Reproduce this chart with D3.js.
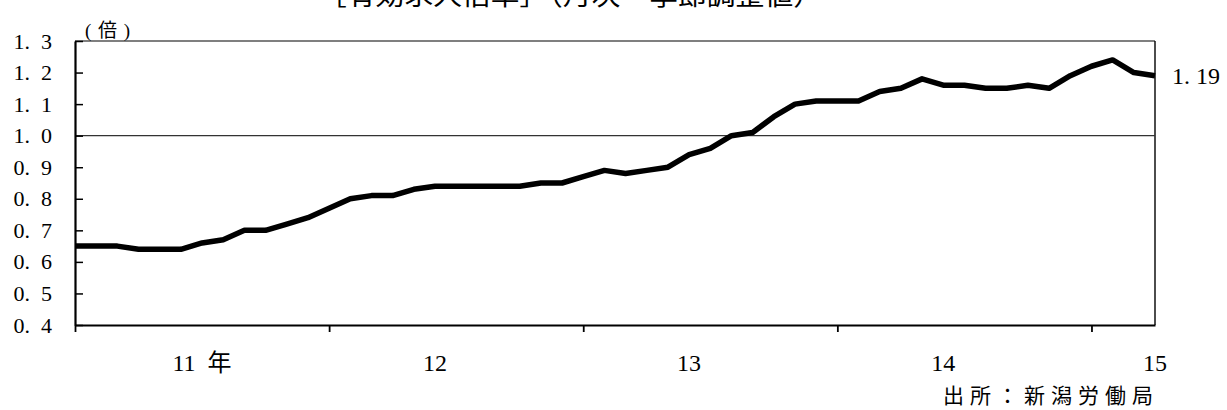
<!DOCTYPE html>
<html>
<head>
<meta charset="utf-8">
<script src="https://cdn.jsdelivr.net/npm/d3@7"></script>
<style>
  html, body { margin: 0; padding: 0; background: #fff; }
  svg text { white-space: pre; }
</style>
</head>
<body>
<svg id="chart" width="1227" height="410"></svg>
<script>
// ---- data (monthly, Jan 2011 .. Apr 2015) ----
const ratio = [
  0.65, 0.65, 0.65, 0.64, 0.64, 0.64, 0.66, 0.67, 0.70, 0.70, 0.72, 0.74,   // 2011
  0.77, 0.80, 0.81, 0.81, 0.83, 0.84, 0.84, 0.84, 0.84, 0.84, 0.85, 0.85,   // 2012
  0.87, 0.89, 0.88, 0.89, 0.90, 0.94, 0.96, 1.00, 1.01, 1.06, 1.10, 1.11,   // 2013
  1.11, 1.11, 1.14, 1.15, 1.18, 1.16, 1.16, 1.15, 1.15, 1.16, 1.15, 1.19,   // 2014
  1.22, 1.24, 1.20, 1.19                                                    // 2015
];
const yTicks = [0.4, 0.5, 0.6, 0.7, 0.8, 0.9, 1.0, 1.1, 1.2, 1.3];
const yearTickIdx = [0, 12, 24, 36, 48];
const yearLabels = ["11  年", "12", "13", "14", "15"];
const yearLabelIdx = [6, 17, 29, 41, 51];
const titleText = "［有効求人倍率］（月次　季節調整値）";
const unitText = "(倍)";
const sourceText = "出所：新潟労働局";
const lastLabel = "1. 19";

const svg = d3.select("#chart");
const L = 75, R = 1155, T = 41, B = 325;

const x = d3.scaleLinear().domain([0, ratio.length - 1]).range([L, R]);
const y = d3.scaleLinear().domain([0.4, 1.3]).range([B, T]);

const serif = "'Liberation Serif', 'Noto Sans CJK JP', serif";
const cjk = "'Noto Sans CJK JP', sans-serif";

// title (cut at top, as in the source image)
svg.append("text").attr("x", 318).attr("y", 5)
  .attr("font-family", cjk).attr("font-size", 26)
  .attr("textLength", 504).attr("lengthAdjust", "spacingAndGlyphs")
  .text(titleText);

// unit
svg.append("text").attr("x", 85).attr("y", 37)
  .attr("font-family", serif).attr("font-size", 19)
  .attr("textLength", 45).attr("lengthAdjust", "spacing")
  .text(unitText);

// top & right border
svg.append("line").attr("x1", L).attr("x2", R).attr("y1", y(1.3)).attr("y2", y(1.3))
  .attr("stroke", "#000").attr("stroke-width", 1.2);
svg.append("line").attr("x1", R).attr("x2", R).attr("y1", y(1.3)).attr("y2", y(0.4))
  .attr("stroke", "#000").attr("stroke-width", 1.4);

// 1.0 reference line
svg.append("line").attr("x1", L).attr("x2", R).attr("y1", y(1.0)).attr("y2", y(1.0))
  .attr("stroke", "#333").attr("stroke-width", 1.3);

// y axis
const yAxis = svg.append("g").attr("transform", `translate(${L},0)`)
  .call(d3.axisLeft(y).tickValues(yTicks).tickSize(-8).tickSizeOuter(0).tickPadding(23)
    .tickFormat(d => d3.format(".1f")(d).replace(".", ".  ")));
yAxis.select(".domain").attr("stroke", "#000").attr("stroke-width", 2.2);
yAxis.selectAll(".tick line").attr("stroke", "#000").attr("stroke-width", 1.5);
yAxis.selectAll(".tick text").attr("font-family", serif).attr("font-size", 22).attr("fill", "#000");

// x axis
const xAxis = svg.append("g").attr("transform", `translate(0,${B})`)
  .call(d3.axisBottom(x).tickValues(yearTickIdx).tickSize(7).tickSizeOuter(0).tickFormat(""));
xAxis.select(".domain").attr("stroke", "#000").attr("stroke-width", 2.2);
xAxis.selectAll(".tick line").attr("stroke", "#000").attr("stroke-width", 1.8);

// year labels
svg.append("g").selectAll("text").data(yearLabels).join("text")
  .attr("x", (d, i) => x(yearLabelIdx[i]))
  .attr("y", 371)
  .attr("text-anchor", "middle")
  .attr("font-family", serif).attr("font-size", 24)
  .text(d => d);

// series line
svg.append("path").datum(ratio)
  .attr("fill", "none").attr("stroke", "#000").attr("stroke-width", 5.5)
  .attr("stroke-linejoin", "round")
  .attr("d", d3.line().x((d, i) => x(i)).y(d => y(d)));

// last value label
svg.append("text").attr("x", 1172).attr("y", y(ratio[ratio.length - 1]) + 8)
  .attr("font-family", serif).attr("font-size", 24)
  .text(lastLabel);

// source
svg.append("text").attr("x", 943).attr("y", 403)
  .attr("font-family", cjk).attr("font-size", 21)
  .attr("textLength", 210).attr("lengthAdjust", "spacing")
  .text(sourceText);
</script>
</body>
</html>
